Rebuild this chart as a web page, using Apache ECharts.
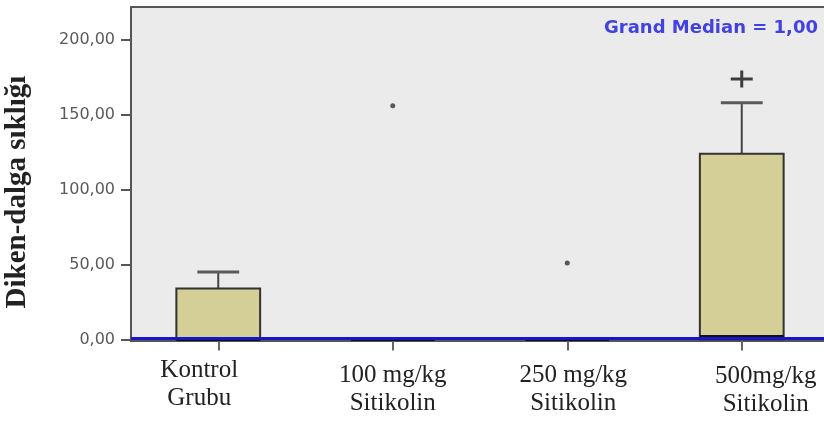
<!DOCTYPE html>
<html>
<head>
<meta charset="utf-8">
<script src="https://cdn.jsdelivr.net/npm/echarts@6/dist/echarts.min.js"></script>
<style>
  html, body { margin: 0; padding: 0; background: #fff; }
  #chart { width: 824px; height: 423px; }
</style>
</head>
<body>
<div id="chart"></div>
<script>
// Groups and their box-plot statistics (spike-wave frequency)
const groups = ['Kontrol\nGrubu', '100 mg/kg\nSitikolin', '250 mg/kg\nSitikolin', '500mg/kg\nSitikolin'];
const whiskerLow = [0, 0, 0, 0];
const q1 = [0, 0, 0, 0];
const median = [0, 0, 0, 2];
const q3 = [34, 0, 0, 124];
const whiskerHigh = [45, 0, 0, 158];
// Extreme values marked with an asterisk: [group index, value]
const extremes = [[1, 156], [2, 51]];
// Significance mark above the 500 mg/kg group
const signMark = [[3, 174]];
const grandMedian = 1;
const yTicks = [0, 50, 100, 150, 200];
const yMin = -1;
const yMax = 222;
const yTitle = 'Diken-dalga sıklığı';

// Per-label nudges of the category text (padding: top, right, bottom, left)
const labelPadding = [[0, 38, 0, 0], [5, 0, 0, 0], [5, 0, 0, 12], [6, 0, 0, 48]];

const boxData = groups.map((g, i) => [i, whiskerLow[i], q1[i], median[i], q3[i], whiskerHigh[i]]);
const categoryItems = groups.map((g, i) => ({ value: g, textStyle: { padding: labelPadding[i] } }));

function renderBox(params, api) {
  const idx = api.value(0);
  const band = api.size([1, 0])[0];
  const bw = band * 0.48;
  const capW = bw * 0.5;
  const pLow = api.coord([idx, api.value(1)]);
  const pQ1 = api.coord([idx, api.value(2)]);
  const pMed = api.coord([idx, api.value(3)]);
  const pQ3 = api.coord([idx, api.value(4)]);
  const pHigh = api.coord([idx, api.value(5)]);
  const cx = pQ1[0];
  const children = [];
  if (pHigh[1] < pQ3[1]) {
    children.push({ type: 'line', shape: { x1: cx, y1: pQ3[1], x2: cx, y2: pHigh[1] },
      style: { stroke: '#444', lineWidth: 2 } });
    children.push({ type: 'line', shape: { x1: cx - capW / 2, y1: pHigh[1], x2: cx + capW / 2, y2: pHigh[1] },
      style: { stroke: '#5a5a5a', lineWidth: 3 } });
  }
  if (pLow[1] > pQ1[1]) {
    children.push({ type: 'line', shape: { x1: cx, y1: pQ1[1], x2: cx, y2: pLow[1] },
      style: { stroke: '#444', lineWidth: 2 } });
    children.push({ type: 'line', shape: { x1: cx - capW / 2, y1: pLow[1], x2: cx + capW / 2, y2: pLow[1] },
      style: { stroke: '#5a5a5a', lineWidth: 3 } });
  }
  children.push({ type: 'rect',
    shape: { x: cx - bw / 2, y: pQ3[1], width: bw, height: pQ1[1] - pQ3[1] },
    style: { fill: '#d4cf96', stroke: '#333', lineWidth: 2 } });
  children.push({ type: 'line', shape: { x1: cx - bw / 2, y1: pMed[1], x2: cx + bw / 2, y2: pMed[1] },
    style: { stroke: '#111', lineWidth: 3 } });
  return { type: 'group', children: children };
}

const chart = echarts.init(document.getElementById('chart'), null, { renderer: 'canvas' });
chart.setOption({
  animation: false,
  backgroundColor: '#ffffff',
  grid: {
    left: 131, top: 7, right: -5, bottom: 82,
    containLabel: false,
    outerBoundsMode: 'none',
    show: true, backgroundColor: '#ebebeb', borderColor: '#555', borderWidth: 2
  },
  xAxis: {
    type: 'category',
    data: categoryItems,
    axisLine: { show: false },
    axisTick: { show: true, alignWithLabel: true, length: 11, lineStyle: { color: '#666', width: 2 } },
    axisLabel: {
      margin: 15,
      interval: 0,
      fontFamily: 'Liberation Serif',
      fontSize: 25,
      lineHeight: 28,
      color: '#222'
    },
    splitLine: { show: false }
  },
  yAxis: {
    type: 'value',
    min: yMin,
    max: yMax,
    axisLine: { show: false },
    axisTick: { show: true, customValues: yTicks, length: 10, lineStyle: { color: '#555', width: 2 } },
    axisLabel: {
      customValues: yTicks,
      margin: 16,
      fontFamily: 'DejaVu Sans',
      fontSize: 16,
      color: '#5a5a5a',
      formatter: v => v.toFixed(2).replace('.', ',')
    },
    splitLine: { show: false }
  },
  series: [
    {
      type: 'custom',
      name: 'box',
      renderItem: renderBox,
      encode: { x: 0, y: [1, 2, 3, 4, 5] },
      data: boxData,
      z: 3
    },
    {
      type: 'scatter',
      name: 'extremes',
      data: extremes,
      symbol: 'circle',
      symbolSize: 5,
      itemStyle: { color: '#333' },
      z: 4
    },
    {
      type: 'scatter',
      name: 'sign',
      data: signMark,
      symbol: 'path://M9.5,0H12.5V7H22V10H12.5V17H9.5V10H0V7H9.5Z',
      symbolSize: [22, 17],
      symbolKeepAspect: false,
      itemStyle: { color: '#111' },
      z: 4
    },
    {
      type: 'line',
      name: 'grand median',
      data: [],
      z: 6,
      markLine: {
        silent: true,
        symbol: 'none',
        label: { show: false },
        lineStyle: { color: '#1717c8', width: 3, type: 'solid' },
        data: [{ yAxis: grandMedian }]
      }
    }
  ],
  graphic: [
    {
      type: 'text',
      x: 18,
      y: 192,
      rotation: Math.PI / 2,
      style: {
        text: yTitle,
        align: 'center',
        verticalAlign: 'middle',
        fontFamily: 'Liberation Serif',
        fontWeight: 'bold',
        fontSize: 29,
        fill: '#222'
      },
      z: 10
    },
    {
      type: 'text',
      right: 6,
      top: 19,
      style: {
        text: 'Grand Median = ' + grandMedian.toFixed(2).replace('.', ','),
        fontFamily: 'DejaVu Sans',
        fontWeight: 'bold',
        fontSize: 18,
        fill: '#4242e0'
      },
      z: 10
    }
  ]
});
</script>
</body>
</html>
